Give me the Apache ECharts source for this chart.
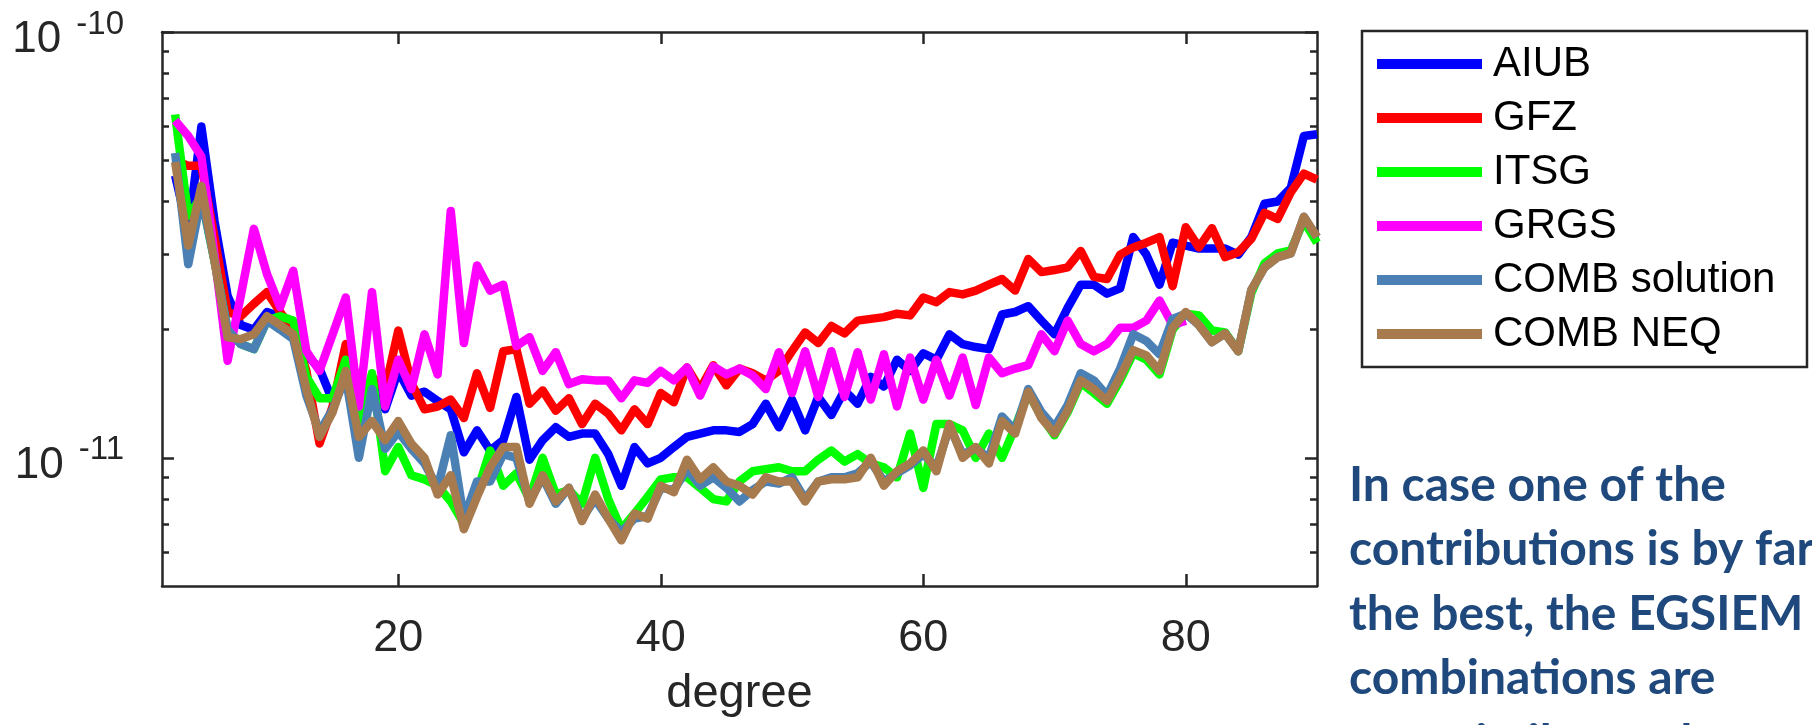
<!DOCTYPE html>
<html>
<head>
<meta charset="utf-8">
<script src="https://cdn.jsdelivr.net/npm/echarts@6/dist/echarts.min.js"></script>
<style>
html,body{margin:0;padding:0;background:#ffffff;}
#chart{width:1812px;height:725px;}
</style>
</head>
<body>
<div id="chart"></div>
<script>
// ---------- data (values in units of 1e-11) ----------
const degrees = [3,4,5,6,7,8,9,10,11,12,13,14,15,16,17,18,19,20,21,22,23,24,25,26,27,28,29,30,31,32,33,34,35,36,37,38,39,40,41,42,43,44,45,46,47,48,49,50,51,52,53,54,55,56,57,58,59,60,61,62,63,64,65,66,67,68,69,70,71,72,73,74,75,76,77,78,79,80,81,82,83,84,85,86,87,88,89,90];
const seriesNames = ['AIUB','GFZ','ITSG','GRGS','COMB solution','COMB NEQ'];
const seriesColors = ['#0000FF','#FF0000','#00FF00','#FF00FF','#4A80B4','#A87B4F'];
const xTickValues = [20,40,60,80];
const yMajorTicks = [1,10];
const yMinorTicks = [0.6,0.7,0.8,0.9,2,3,4,5,6,7,8,9];
const yUnitExponent = -11;

const aiub = [4.6,3.4,6.0,3.6,2.4,2.05,2.0,2.2,2.15,2.0,
  1.75,1.62,1.36,1.55,1.3,1.5,1.3,1.6,1.4,1.43,
  1.36,1.3,1.03,1.16,1.04,1.1,1.39,0.99,1.1,1.18,
  1.12,1.14,1.14,1.02,0.86,1.06,0.97,1.0,1.06,1.12,
  1.14,1.16,1.16,1.15,1.2,1.34,1.18,1.37,1.16,1.39,
  1.26,1.44,1.34,1.55,1.47,1.7,1.6,1.76,1.7,1.95,
  1.85,1.82,1.8,2.17,2.2,2.27,2.1,1.95,2.25,2.55,
  2.55,2.43,2.5,3.3,3.0,2.55,3.2,3.15,3.1,3.1,
  3.1,3.0,3.3,3.95,4.0,4.3,5.7,5.75];
const gfz = [5.0,4.85,4.85,3.3,2.2,2.15,2.3,2.45,2.2,2.0,
  1.6,1.08,1.32,1.85,1.3,1.55,1.45,1.99,1.5,1.3,
  1.32,1.37,1.24,1.58,1.31,1.78,1.8,1.34,1.44,1.29,
  1.38,1.2,1.34,1.27,1.16,1.3,1.2,1.42,1.35,1.63,
  1.45,1.65,1.48,1.62,1.58,1.52,1.6,1.78,1.97,1.86,
  2.04,1.96,2.1,2.12,2.14,2.18,2.16,2.38,2.32,2.45,
  2.42,2.47,2.55,2.63,2.47,2.93,2.73,2.76,2.8,3.06,
  2.66,2.63,3.0,3.12,3.2,3.3,2.53,3.48,3.12,3.46,
  2.96,3.04,3.27,3.76,3.64,4.2,4.65,4.5];
const itsg = [6.4,3.7,4.1,2.9,2.0,1.85,1.8,2.1,2.15,2.1,
  1.55,1.38,1.38,1.7,1.2,1.58,0.93,1.06,0.91,0.89,
  0.86,0.79,0.7,0.83,1.04,0.86,0.92,0.8,1.0,0.82,
  0.84,0.78,1.0,0.8,0.68,0.74,0.81,0.89,0.9,0.9,
  0.85,0.8,0.79,0.88,0.93,0.94,0.95,0.93,0.93,0.99,
  1.04,0.98,1.02,0.97,0.95,0.9,1.14,0.85,1.2,1.2,
  1.16,1.0,1.14,1.0,1.18,1.42,1.25,1.13,1.28,1.5,
  1.42,1.34,1.52,1.76,1.7,1.57,2.0,2.18,2.16,1.99,
  1.97,1.78,2.44,2.86,3.02,3.07,3.6,3.2];
const grgs = [6.2,5.7,5.1,3.0,1.69,2.4,3.45,2.7,2.26,2.75,
  1.78,1.6,1.95,2.38,1.32,2.45,1.32,1.7,1.45,1.95,
  1.57,3.8,1.86,2.83,2.47,2.55,1.83,1.92,1.6,1.77,
  1.49,1.53,1.52,1.52,1.38,1.52,1.5,1.6,1.52,1.63,
  1.4,1.64,1.57,1.62,1.56,1.45,1.77,1.42,1.78,1.39,
  1.78,1.39,1.77,1.37,1.75,1.32,1.72,1.37,1.7,1.4,
  1.72,1.33,1.72,1.58,1.62,1.65,1.95,1.78,2.1,1.85,
  1.78,1.85,2.02,2.02,2.1,2.34,2.05,2.1];
const combSolution = [5.2,2.85,4.1,2.9,2.0,1.85,1.8,2.1,2.0,1.9,
  1.4,1.15,1.3,1.55,1.0,1.45,1.05,1.15,1.05,0.97,
  0.85,1.13,0.72,0.88,0.88,1.02,1.0,0.79,0.9,0.78,
  0.85,0.72,0.8,0.72,0.67,0.72,0.73,0.85,0.84,0.94,
  0.86,0.9,0.85,0.79,0.84,0.88,0.87,0.9,0.8,0.88,
  0.9,0.9,0.92,0.98,0.88,0.92,0.96,1.02,0.95,1.18,
  1.02,1.05,1.0,1.25,1.16,1.45,1.28,1.18,1.33,1.58,
  1.52,1.4,1.62,1.95,1.88,1.75,2.12,2.18,2.05,1.87,
  1.96,1.78,2.48,2.8,2.96,3.02,3.68,3.3];
const combNeq = [4.95,3.15,4.35,2.9,1.92,1.9,1.95,2.15,2.05,1.95,
  1.45,1.12,1.28,1.6,1.12,1.22,1.1,1.22,1.08,1.0,
  0.82,0.91,0.68,0.81,0.95,1.06,1.06,0.78,0.91,0.79,
  0.85,0.71,0.82,0.72,0.64,0.74,0.72,0.86,0.83,0.99,
  0.89,0.95,0.88,0.86,0.82,0.9,0.88,0.88,0.79,0.88,
  0.89,0.89,0.9,1.0,0.86,0.93,0.97,1.04,0.93,1.2,
  1.0,1.06,0.97,1.22,1.14,1.43,1.24,1.14,1.29,1.52,
  1.45,1.36,1.55,1.79,1.74,1.6,2.02,2.2,2.05,1.87,
  1.96,1.78,2.48,2.8,2.96,3.02,3.68,3.3];
const seriesValues = [aiub, gfz, itsg, grgs, combSolution, combNeq];

const noteLines = ['In case one of the','contributions is by far','the best, the EGSIEM','combinations are','very similar to the'];

// ---------- chart ----------
const axisColor = '#262626';
const axisFont = 'Liberation Sans, Arial, Helvetica, sans-serif';

function yAxisDef(pos, ticks, len, showLine, showLabel) {
  return {
    type: 'log', logBase: 10, min: 0.5, max: 10, position: pos,
    axisLine: {show: showLine, lineStyle: {color: axisColor, width: 2.5}},
    axisTick: {show: true, inside: true, length: len, customValues: ticks,
      lineStyle: {color: axisColor, width: 2.5}},
    splitLine: {show: false},
    minorTick: {show: false},
    axisLabel: showLabel ? {
      show: true, customValues: yMajorTicks, margin: 38, padding: [6,0,0,0],
      formatter: function (v) {
        const e = Math.round(Math.log10(v)) + yUnitExponent;
        return '{b|10}{s|' + e + '}';
      },
      rich: {
        b: {fontSize: 44, fontFamily: axisFont, color: axisColor, lineHeight: 54, verticalAlign: 'bottom', padding: [0, 15, 0, 0]},
        s: {fontSize: 33, fontFamily: axisFont, color: axisColor, lineHeight: 54, verticalAlign: 'top'}
      }
    } : {show: false}
  };
}

function xAxisDef(pos, showLabel) {
  return {
    type: 'value', min: 2, max: 90, position: pos,
    axisLine: {show: true, onZero: false, lineStyle: {color: axisColor, width: 2.5}},
    axisTick: {show: true, inside: true, length: 12, customValues: xTickValues,
      lineStyle: {color: axisColor, width: 2.5}},
    splitLine: {show: false},
    axisLabel: showLabel ? {show: true, customValues: xTickValues, margin: 30,
      fontSize: 45, fontFamily: axisFont, color: axisColor} : {show: false},
    name: showLabel ? 'degree' : '',
    nameLocation: 'middle', nameGap: 85,
    nameTextStyle: {fontSize: 47, fontFamily: axisFont, color: axisColor}
  };
}

const chart = echarts.init(document.getElementById('chart'), null, {renderer: 'canvas'});
const option = {
  animation: false,
  backgroundColor: '#ffffff',
  grid: {left: 162, top: 32, width: 1155, height: 554, containLabel: false, outerBoundsMode: 'none'},
  xAxis: [xAxisDef('bottom', true), xAxisDef('top', false)],
  yAxis: [
    yAxisDef('left', yMajorTicks, 12, true, true),
    yAxisDef('left', yMinorTicks, 7, false, false),
    yAxisDef('right', yMajorTicks, 12, true, false),
    yAxisDef('right', yMinorTicks, 7, false, false)
  ],
  legend: {
    orient: 'vertical', left: 1377, top: 42, padding: 0,
    itemWidth: 105, itemHeight: 10, itemGap: 10, icon: 'rect',
    selectedMode: false,
    data: seriesNames,
    textStyle: {fontSize: 42, fontFamily: axisFont, color: '#000000', lineHeight: 44, padding: [0,0,0,6]}
  },
  graphic: [
    {type: 'rect', shape: {x: 1362, y: 31, width: 445, height: 336},
      style: {fill: 'none', stroke: axisColor, lineWidth: 2.5}, z: 100},
    {type: 'text', x: 1349, y: 453, z: 100,
      style: {text: noteLines.join('\n'), font: 'bold 48px Lato, "Noto Sans", sans-serif',
        fill: '#1F497D', lineHeight: 64.5, verticalAlign: 'top', align: 'left'}}
  ],
  series: seriesNames.map(function (name, i) {
    return {
      name: name, type: 'line', xAxisIndex: 0, yAxisIndex: 0,
      data: seriesValues[i].map(function (v, j) { return [degrees[j], v]; }),
      showSymbol: false, symbol: 'none',
      color: seriesColors[i],
      itemStyle: {color: seriesColors[i]},
      lineStyle: {color: seriesColors[i], width: 8.5, join: 'round', cap: 'butt'},
      z: 2 + i
    };
  })
};
chart.setOption(option);
</script>
</body>
</html>
